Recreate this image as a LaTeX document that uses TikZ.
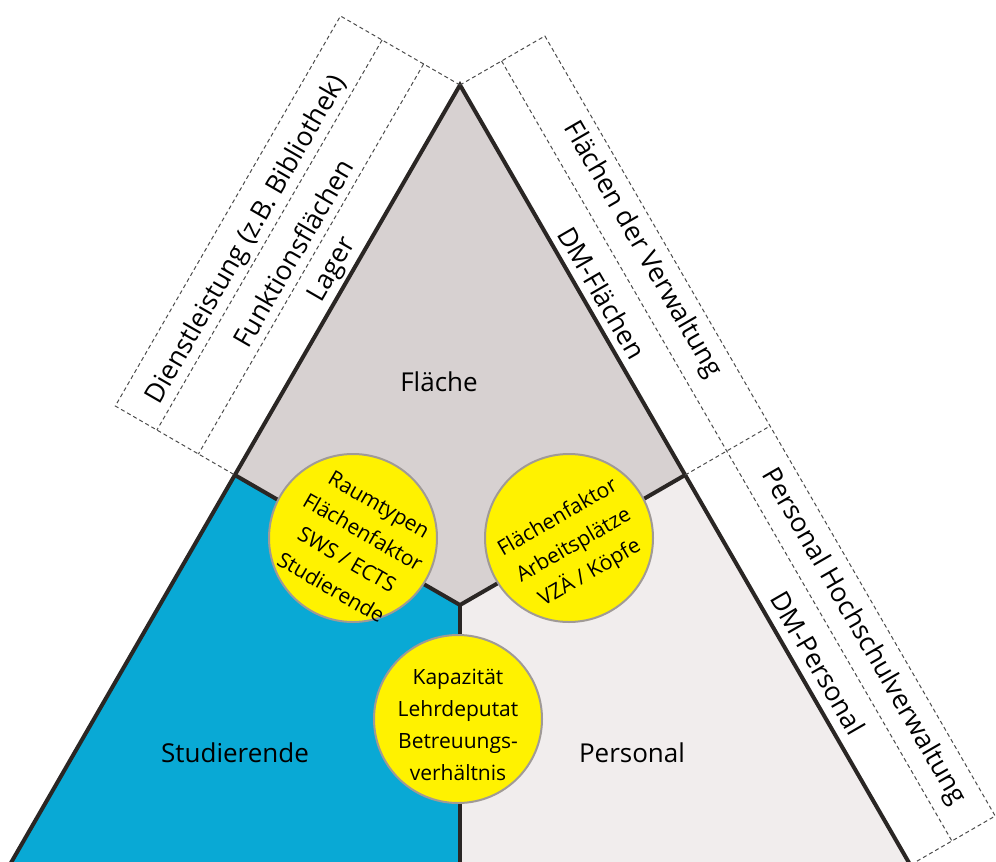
\documentclass[tikz,border=0pt]{standalone}
\usepackage{fontspec}
\setmainfont{Open Sans}
\usetikzlibrary{calc}

\definecolor{flaeche}{RGB}{215,209,209}
\definecolor{studi}{RGB}{9,169,213}
\definecolor{personal}{RGB}{241,237,237}
\definecolor{rand}{RGB}{42,38,36}
\definecolor{kreisrand}{RGB}{160,154,150}

\begin{document}
\begin{tikzpicture}[x=0.5pt, y=-0.5pt,
	kante/.style={line width=2pt, draw=rand},
	band/.style={draw=black!70, line width=0.5pt, dash pattern=on 2pt off 1.5pt},
	bereich/.style={font=\fontsize{13}{15}\selectfont},
	seite/.style={font=\fontsize{13.3}{15}\selectfont, inner sep=0pt},
	kreis/.style={circle, minimum size=84pt, inner sep=0pt, fill=yellow, draw=kreisrand, line width=1pt},
	kreistext/.style={align=center, inner sep=0pt, font=\fontsize{10.5}{16}\selectfont}]
	\useasboundingbox (0,0) rectangle (996,862);
	\clip (0,0) rectangle (996,862);
	
	\coordinate (A) at (460,85);
	\coordinate (O) at (460,605);
	\coordinate (L) at (234.8,475);
	\coordinate (R) at (685.2,475);
	\coordinate (BL) at (9.7,865);
	\coordinate (BR) at (910.3,865);
	\coordinate (BM) at (460,865);
	
	\fill[flaeche] (A) -- (R) -- (O) -- (L) -- cycle;
	\fill[studi] (L) -- (O) -- (BM) -- (BL) -- cycle;
	\fill[personal] (R) -- (BR) -- (BM) -- (O) -- cycle;
	
	\begin{scope}[kante]
		\draw (A) -- (BL) -- (BR) -- cycle;
		\draw (L) -- (O) -- (R);
		\draw (O) -- (BM);
	\end{scope}
	
	\begin{scope}[band]
		\draw (A) -- ($(A)+(-119.5,-69)$) -- ($(L)+(-119.5,-69)$) -- (L);
		\draw ($(A)+(-77.9,-45)$) -- ($(L)+(-77.9,-45)$);
		\draw ($(A)+(-36.4,-21)$) -- ($(L)+(-36.4,-21)$);
		\draw (A) -- ($(A)+(84.9,-49)$) -- ($(BR)+(84.9,-49)$) -- (BR);
		\draw ($(A)+(41.6,-24)$) -- ($(BR)+(41.6,-24)$);
		\draw (R) -- ($(R)+(84.9,-49)$);
	\end{scope}
	
	\node[seite, rotate=60] (lager) at (333,270) {Lager};
	\node[seite, rotate=60] (funktion) at (293,253) {Funktionsflächen};
	\node[seite, rotate=60] (dienst) at (247,240) {Dienstleistung (z.B. Bibliothek)};
	\node[seite, rotate=-60] (dmflaeche) at (602,293) {DM-Flächen};
	\node[seite, rotate=-60] (verwaltung) at (642,250) {Flächen der Verwaltung};
	\node[seite, rotate=-60] (dmpersonal) at (818,663) {DM-Personal};
	\node[seite, rotate=-60] (hochschul) at (863,637) {Personal Hochschulverwaltung};
	
	\node[bereich] (flaechelabel) at (439,382) {Fläche};
	\node[bereich] (studilabel) at (235,753) {Studierende};
	\node[bereich] (personallabel) at (632,753) {Personal};
	
	\node[kreis] (raum) at (353,538) {};
	\node[kreistext, rotate=-30] (raumtext) at (355,546) {Raumtypen\\Flächenfaktor\\SWS / ECTS\\Studierende};
	\node[kreis] (arbeit) at (569,538) {};
	\node[kreistext, rotate=30] (arbeittext) at (574,546) {Flächenfaktor\\Arbeitsplätze\\VZÄ / Köpfe};
	\node[kreis] (kapa) at (458,719) {};
	\node[kreistext] (kapatext) at (458,725) {Kapazität\\Lehrdeputat\\Betreuungs-\\verhältnis};
\end{tikzpicture}
\end{document}
